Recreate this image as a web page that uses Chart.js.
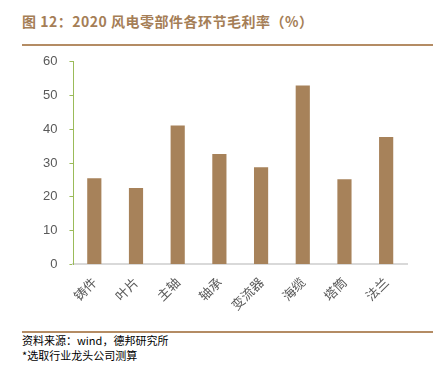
<!DOCTYPE html>
<html>
<head>
<meta charset="utf-8">
<script src="https://cdn.jsdelivr.net/npm/chart.js@4"></script>
<style>
  body { margin: 0; background: #fff; width: 438px; height: 367px; position: relative; overflow: hidden;
         font-family: "Noto Sans CJK SC", "Liberation Sans", sans-serif; }
  #title { position: absolute; left: 22px; top: 11px; font-size: 14px; font-weight: bold; color: #a57e56; letter-spacing: 0.5px; }
  .rule { position: absolute; left: 22px; width: 411px; height: 2px; background: #b48c64; z-index: 2; }
  #src { position: absolute; left: 22px; top: 333px; font-size: 11px; line-height: 15px; color: #000; }
  #box { position: absolute; left: 0; top: 42px; width: 420px; height: 273px; }
</style>
</head>
<body>
<div id="title">图 12：2020 风电零部件各环节毛利率（%）</div>
<div class="rule" style="top:44px"></div>
<div id="box"><canvas id="c"></canvas></div>
<div class="rule" style="top:331px"></div>
<div id="src">资料来源：wind，德邦研究所<br>*选取行业龙头公司测算</div>
<script>
// categories and margins (%)
const categories = ["铸件", "叶片", "主轴", "轴承", "变流器", "海缆", "塔筒", "法兰"];
const margins = [25.5, 22.6, 41.1, 32.7, 28.8, 53.0, 25.2, 37.7];
const yTicks = [0, 10, 20, 30, 40, 50, 60];

new Chart(document.getElementById("c"), {
  type: "bar",
  data: {
    labels: categories,
    datasets: [{
      label: "毛利率",
      data: margins,
      backgroundColor: "#a7825a",
      barPercentage: 0.34,
      categoryPercentage: 1
    }]
  },
  options: {
    responsive: true,
    maintainAspectRatio: false,
    animation: false,
    layout: { padding: { left: 31, right: 13, top: 0, bottom: 0 } },
    plugins: { legend: { display: false }, tooltip: { enabled: false } },
    scales: {
      x: {
        grid: { display: false },
        border: { color: "#d9d9d9", width: 2 },
        ticks: { color: "#595959", maxRotation: 45, minRotation: 45, font: { size: 13, family: "Noto Sans CJK SC" }, padding: 2 }
      },
      y: {
        min: 0, max: 60,
        afterBuildTicks: axis => { axis.ticks = yTicks.map(v => ({ value: v })); },
        grid: { drawOnChartArea: false, drawTicks: true, tickLength: 4, color: "#9bbb59" },
        border: { color: "#9bbb59", width: 1 },
        ticks: { color: "#595959", font: { size: 13, family: "Liberation Sans" }, padding: 12 }
      }
    }
  }
});
</script>
</body>
</html>
